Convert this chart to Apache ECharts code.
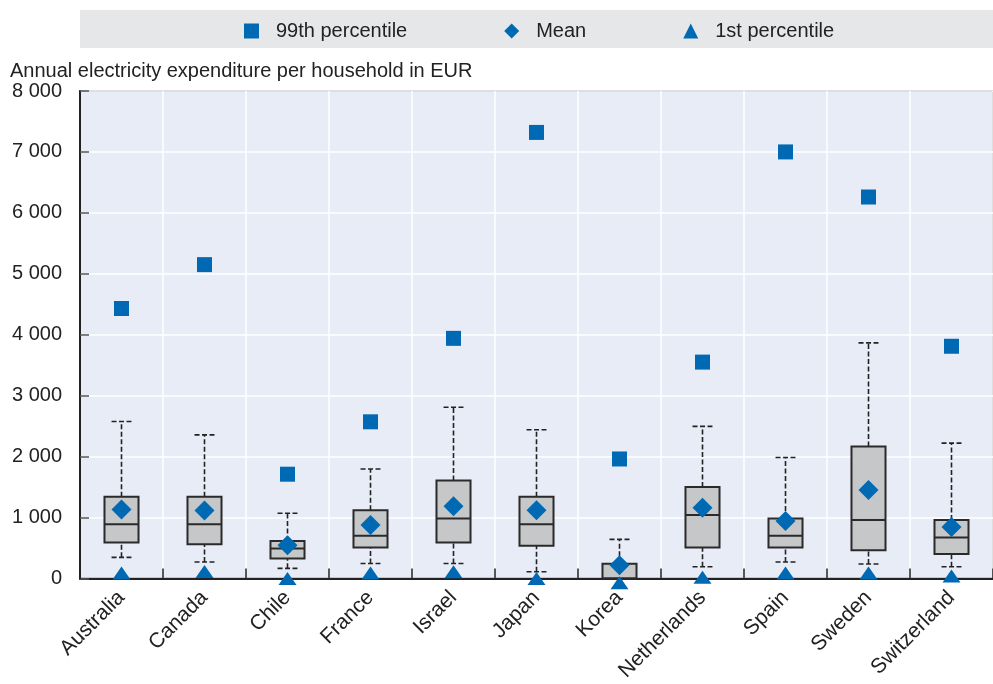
<!DOCTYPE html>
<html>
<head>
<meta charset="utf-8">
<script src="https://cdn.jsdelivr.net/npm/echarts@6/dist/echarts.min.js"></script>
<style>
html,body{margin:0;padding:0;background:#fff;}
#chart{width:993px;height:684px;}
</style>
</head>
<body>
<div id="chart"></div>
<script>
var categories = ['Australia','Canada','Chile','France','Israel','Japan','Korea','Netherlands','Spain','Sweden','Switzerland'];
var p99   = [4430, 5150, 1710, 2570, 3940, 7320, 1960, 3550, 7000, 6260, 3810];
var meanV = [1130, 1115, 545, 875, 1185, 1120, 215, 1160, 940, 1450, 845];
var p1    = [90, 115, 0, 90, 110, 0, -70, 20, 90, 90, 40];
var whiskerLow  = [345, 270, 165, 245, 245, 110, 0, 190, 270, 235, 190];
var q1          = [590, 560, 325, 505, 590, 535, 0, 505, 505, 460, 400];
var medianV     = [890, 890, 490, 700, 985, 890, 0, 1040, 700, 960, 670];
var q3          = [1340, 1340, 615, 1120, 1605, 1340, 240, 1500, 985, 2165, 960];
var whiskerHigh = [2575, 2355, 1070, 1795, 2810, 2440, 640, 2495, 1985, 3865, 2220];
var yTicks = [0, 1000, 2000, 3000, 4000, 5000, 6000, 7000, 8000];
var legendNames = ['99th percentile', 'Mean', '1st percentile'];

var BLUE = '#0069b4';
var FONT = 'Liberation Sans, Arial, sans-serif';

var boxData = categories.map(function (c, i) {
  return [i, whiskerLow[i], q1[i], medianV[i], q3[i], whiskerHigh[i]];
});

function fmt(v) { return String(v).replace(/\B(?=(\d{3})+(?!\d))/g, ' '); }

var chart = echarts.init(document.getElementById('chart'), null, {renderer: 'canvas'});

var option = {
  animation: false,
  backgroundColor: '#ffffff',
  textStyle: {fontFamily: FONT},
  graphic: [
    {type: 'rect', left: 80, top: 10, shape: {width: 913, height: 38}, style: {fill: '#e6e7e9'}, z: -1},
    {type: 'text', left: 10, top: 61, style: {text: 'Annual electricity expenditure per household in EUR', font: '20px ' + FONT, fill: '#222'}}
  ],
  legend: {
    data: [
      {name: legendNames[0], icon: 'rect', itemStyle: {color: BLUE, opacity: 1}},
      {name: legendNames[1], icon: 'diamond', itemStyle: {color: BLUE, opacity: 1}},
      {name: legendNames[2], icon: 'triangle', itemStyle: {color: BLUE, opacity: 1}}
    ],
    left: 244, top: 21, padding: 0,
    itemWidth: 15, itemHeight: 15,
    itemGap: 97,
    textStyle: {fontSize: 20, color: '#222', fontFamily: FONT, padding: [0, 0, 0, 12]}
  },
  grid: {
    left: 80, top: 91, width: 920, height: 490,
    show: true, backgroundColor: '#e8ecf6', borderColor: '#555', borderWidth: 1.5
  },
  xAxis: {
    type: 'category',
    data: categories,
    boundaryGap: true,
    axisLine: {show: true, lineStyle: {color: '#222', width: 2}},
    axisTick: {show: true, inside: true, length: 10, lineStyle: {color: '#222', width: 1.5}},
    splitLine: {show: true, lineStyle: {color: '#ffffff', width: 1.5}},
    axisLabel: {rotate: 45, fontSize: 21, color: '#222', margin: 16, fontFamily: FONT, interval: 0}
  },
  yAxis: {
    type: 'value',
    min: yTicks[0], max: yTicks[yTicks.length - 1], interval: 1000,
    axisLine: {show: true, lineStyle: {color: '#222', width: 2}},
    axisTick: {show: true, inside: true, length: 9, lineStyle: {color: '#555', width: 1.5}},
    splitLine: {show: true, lineStyle: {color: '#ffffff', width: 1.5}},
    axisLabel: {fontSize: 20, color: '#222', margin: 18, fontFamily: FONT, formatter: fmt}
  },
  series: [
    {
      type: 'custom',
      name: 'box',
      z: 1,
      data: boxData,
      encode: {x: 0, y: [1, 2, 3, 4, 5]},
      renderItem: function (params, api) {
        var idx = api.value(0);
        var lo = api.coord([idx, api.value(1)]);
        var b1 = api.coord([idx, api.value(2)]);
        var md = api.coord([idx, api.value(3)]);
        var b3 = api.coord([idx, api.value(4)]);
        var hi = api.coord([idx, api.value(5)]);
        var cw = api.size([1, 0])[0];
        var bw = cw * 0.41;
        var capW = cw * 0.24;
        var x = lo[0];
        var dashStyle = {stroke: '#222', lineWidth: 1.6, lineDash: [5, 2.5]};
        var children = [];
        children.push({type: 'line', shape: {x1: x, y1: b3[1], x2: x, y2: hi[1]}, style: dashStyle});
        children.push({type: 'line', shape: {x1: x - capW / 2, y1: hi[1], x2: x + capW / 2, y2: hi[1]}, style: dashStyle});
        if (api.value(1) < api.value(2)) {
          children.push({type: 'line', shape: {x1: x, y1: lo[1], x2: x, y2: b1[1]}, style: dashStyle});
          children.push({type: 'line', shape: {x1: x - capW / 2, y1: lo[1], x2: x + capW / 2, y2: lo[1]}, style: dashStyle});
        }
        children.push({type: 'rect', shape: {x: x - bw / 2, y: b3[1], width: bw, height: b1[1] - b3[1]},
          style: {fill: '#c6c7c9', stroke: '#2a2a2a', lineWidth: 2}});
        children.push({type: 'line', shape: {x1: x - bw / 2, y1: md[1], x2: x + bw / 2, y2: md[1]},
          style: {stroke: '#2a2a2a', lineWidth: 2}});
        return {type: 'group', children: children};
      }
    },
    {
      type: 'scatter', name: legendNames[0], data: p99, symbol: 'rect', symbolSize: 15,
      itemStyle: {color: BLUE, opacity: 1}, z: 3, clip: false
    },
    {
      type: 'scatter', name: legendNames[1], data: meanV, symbol: 'diamond', symbolSize: [20, 20],
      itemStyle: {color: BLUE, opacity: 1}, z: 3, clip: false
    },
    {
      type: 'scatter', name: legendNames[2], data: p1, symbol: 'triangle', symbolSize: [18, 13],
      itemStyle: {color: BLUE, opacity: 1}, z: 3, clip: false
    }
  ]
};
chart.setOption(option);
</script>
</body>
</html>
